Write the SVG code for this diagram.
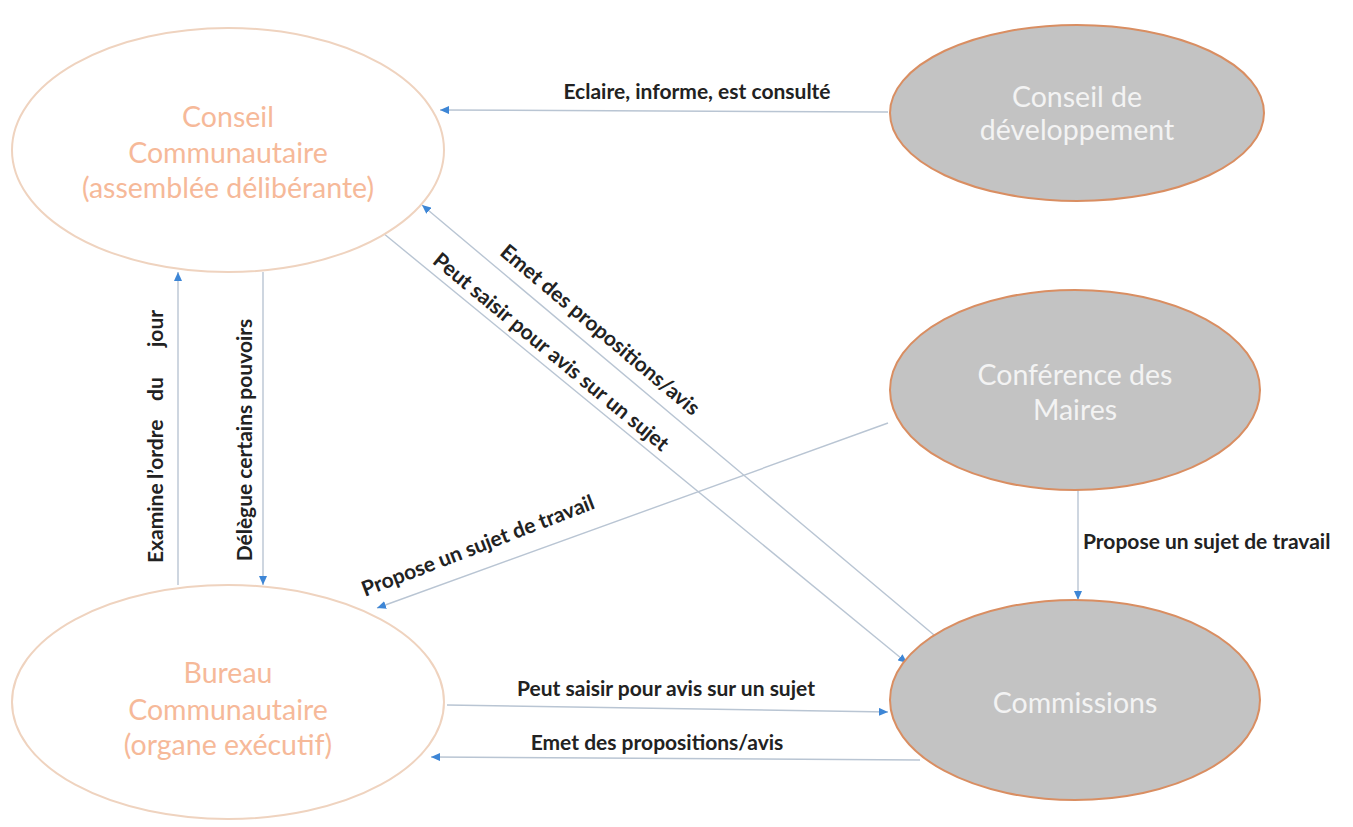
<svg xmlns="http://www.w3.org/2000/svg" width="1353" height="827" viewBox="0 0 1353 827">
  <style>
    .org { fill: #ffffff; stroke: #efd3bf; stroke-width: 2; }
    .org-t { font-family: Lato, "Open Sans", sans-serif; font-size: 28.5px; fill: #f6b999; text-anchor: middle; }
    .ext { fill: #c3c3c3; stroke: #d98e62; stroke-width: 2; }
    .ext-t { font-family: Lato, "Open Sans", sans-serif; font-size: 28.5px; fill: #f3f3f3; text-anchor: middle; }
    .link { fill: none; stroke: #b9c5d3; stroke-width: 1.4; marker-end: url(#arr); }
    .lbl { font-family: Lato, "Open Sans", sans-serif; font-size: 21px; font-weight: bold; fill: #222222; }
    .mid { text-anchor: middle; }
  </style>
  <defs>
    <marker id="arr" viewBox="0 0 9 8" refX="9" refY="4" markerWidth="9" markerHeight="8" markerUnits="userSpaceOnUse" orient="auto">
      <path d="M0,0 L9,4 L0,8 z" fill="#3d86d6"/>
    </marker>
  </defs>
  <rect width="1353" height="827" fill="#ffffff"/>

  <!-- connectors -->
  <g id="connectors">
    <path class="link" d="M888,112 L440,110"/>
    <path class="link" d="M178,585 L178,272"/>
    <path class="link" d="M263,272 L263,585"/>
    <path class="link" d="M940,640 L422,205"/>
    <path class="link" d="M383,233 L907,663"/>
    <path class="link" d="M888,423 L377,608"/>
    <path class="link" d="M1078,490 L1078,600"/>
    <path class="link" d="M447,705 L888,712"/>
    <path class="link" d="M920,760 L431,757"/>

    <text class="lbl mid" x="697" y="99">Eclaire, informe, est consulté</text>
    <text class="lbl" transform="translate(156,435) rotate(-90)" y="7"><tspan x="-128">Examine</tspan> <tspan x="-44">l’ordre</tspan> <tspan x="34">du</tspan> <tspan x="88">jour</tspan></text>
    <text class="lbl mid" transform="translate(245,440) rotate(-90)" y="7">Délègue certains pouvoirs</text>
    <text class="lbl mid" transform="translate(600,330) rotate(40)" y="7">Emet des propositions/avis</text>
    <text class="lbl mid" transform="translate(551,352) rotate(39.5)" y="7">Peut saisir pour avis sur un sujet</text>
    <text class="lbl mid" transform="translate(478,546) rotate(-21)" y="7">Propose un sujet de travail</text>
    <text class="lbl" x="1083" y="549">Propose un sujet de travail</text>
    <text class="lbl mid" x="666" y="696">Peut saisir pour avis sur un sujet</text>
    <text class="lbl mid" x="657" y="750">Emet des propositions/avis</text>
  </g>

  <!-- nodes -->
  <g id="conseil-communautaire">
    <ellipse class="org" cx="228" cy="150" rx="216" ry="122"/>
    <text class="org-t" x="228" y="127">Conseil</text>
    <text class="org-t" x="228" y="163">Communautaire</text>
    <text class="org-t" x="228" y="198">(assemblée délibérante)</text>
  </g>

  <g id="bureau-communautaire">
    <ellipse class="org" cx="228" cy="702" rx="216" ry="117"/>
    <text class="org-t" x="228" y="683">Bureau</text>
    <text class="org-t" x="228" y="720">Communautaire</text>
    <text class="org-t" x="228" y="755">(organe exécutif)</text>
  </g>

  <g id="conseil-developpement">
    <ellipse class="ext" cx="1077" cy="113" rx="187" ry="88"/>
    <text class="ext-t" x="1077" y="107">Conseil de</text>
    <text class="ext-t" x="1077" y="140">développement</text>
  </g>

  <g id="conference-maires">
    <ellipse class="ext" cx="1075" cy="390" rx="185" ry="100"/>
    <text class="ext-t" x="1075" y="385">Conférence des</text>
    <text class="ext-t" x="1075" y="420">Maires</text>
  </g>

  <g id="commissions">
    <ellipse class="ext" cx="1075" cy="700" rx="185" ry="100"/>
    <text class="ext-t" x="1075" y="713">Commissions</text>
  </g>
</svg>
